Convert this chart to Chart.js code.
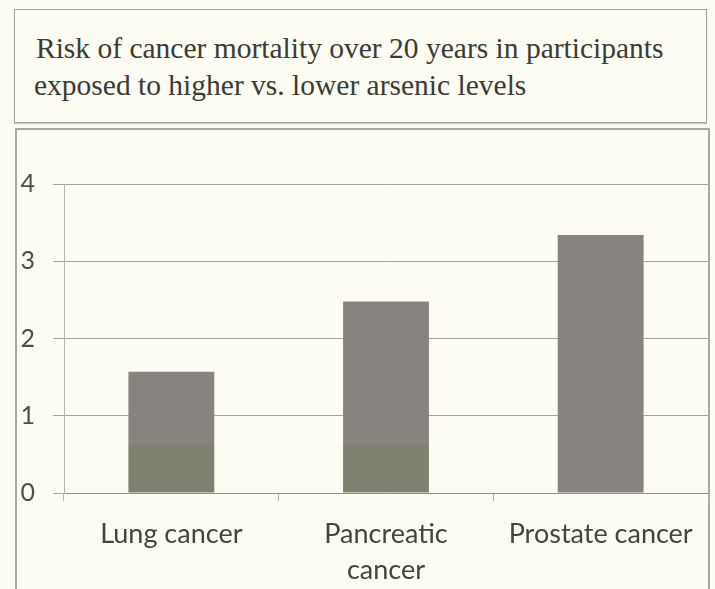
<!DOCTYPE html>
<html>
<head>
<meta charset="utf-8">
<script src="https://cdn.jsdelivr.net/npm/chart.js@4"></script>
<style>
  html, body { margin: 0; padding: 0; background: #fdfcf3; }
  body { width: 715px; height: 589px; position: relative; overflow: hidden; }
  #title-box {
    position: absolute; left: 14px; top: 9px; width: 693px; height: 114px;
    border: 1px solid #a3a39a; box-shadow: 0 1px 1px #c8c8c0;
    font-family: "Liberation Serif", serif; font-size: 29.5px; line-height: 37px;
    color: #3b3b36; padding: 20px 0 0 19px; box-sizing: border-box;
    white-space: nowrap;
  }
  #title-box .first { padding-left: 2px; }
  #chart-box {
    position: absolute; left: 15px; top: 128px; width: 695px; height: 480px;
    border: 2px solid #a8a8a0; box-sizing: border-box;
  }
  #wrap { position: absolute; left: 0; top: 0; width: 715px; height: 589px; }
</style>
</head>
<body>
<div id="title-box"><span class="first">Risk of cancer mortality over 20 years in participants</span><br>exposed to higher vs. lower arsenic levels</div>
<div id="chart-box"></div>
<div id="wrap"><canvas id="chart" width="715" height="589"></canvas></div>
<script>
document.addEventListener("DOMContentLoaded", function () {
    // data
    const categories = ["Lung cancer", ["Pancreatic", "cancer"], "Prostate cancer"];
    const lowerPart = [0.62, 0.62, 0];      // greenish bottom segment
    const upperPart = [0.95, 1.86, 3.34];   // grey segment on top
    const yTicks = [0, 1, 2, 3, 4];

    const chart = new Chart(document.getElementById("chart"), {
        type: "bar",
        data: {
            labels: categories,
            datasets: [{
                data: lowerPart,
                backgroundColor: "#7e8170",
                categoryPercentage: 1,
                barPercentage: 0.4
            }, {
                data: upperPart,
                backgroundColor: "#89837f",
                categoryPercentage: 1,
                barPercentage: 0.4
            }]
        },
        options: {
            responsive: false,
            animation: false,
            layout: { padding: { left: 20, right: 7, top: 184, bottom: 0 } },
            plugins: { legend: { display: false }, tooltip: { enabled: false } },
            scales: {
                x: {
                    stacked: true,
                    afterFit: function (scale) { scale.height = 96; },
                    grid: { drawOnChartArea: false, tickLength: 8, color: "#b5b5ad", offset: true },
                    border: { color: "#8f8f88", dash: [5, 2] },
                    ticks: {
                        font: { family: "Lato", size: 27, lineHeight: 1.33 },
                        color: "#45453f",
                        padding: 15,
                        maxRotation: 0,
                        autoSkip: false
                    }
                },
                y: {
                    stacked: true,
                    min: yTicks[0],
                    max: yTicks[yTicks.length - 1],
                    afterFit: function (scale) { scale.width = 44; },
                    afterBuildTicks: function (scale) { scale.ticks = yTicks.map(v => ({ value: v })); },
                    grid: { color: "#a5a59c", tickLength: 11 },
                    border: { color: "#b5b5ad" },
                    ticks: {
                        font: { family: "Lato", size: 25 },
                        color: "#4f4f48",
                        padding: 18
                    }
                }
            }
        }
    });
});
</script>
</body>
</html>
